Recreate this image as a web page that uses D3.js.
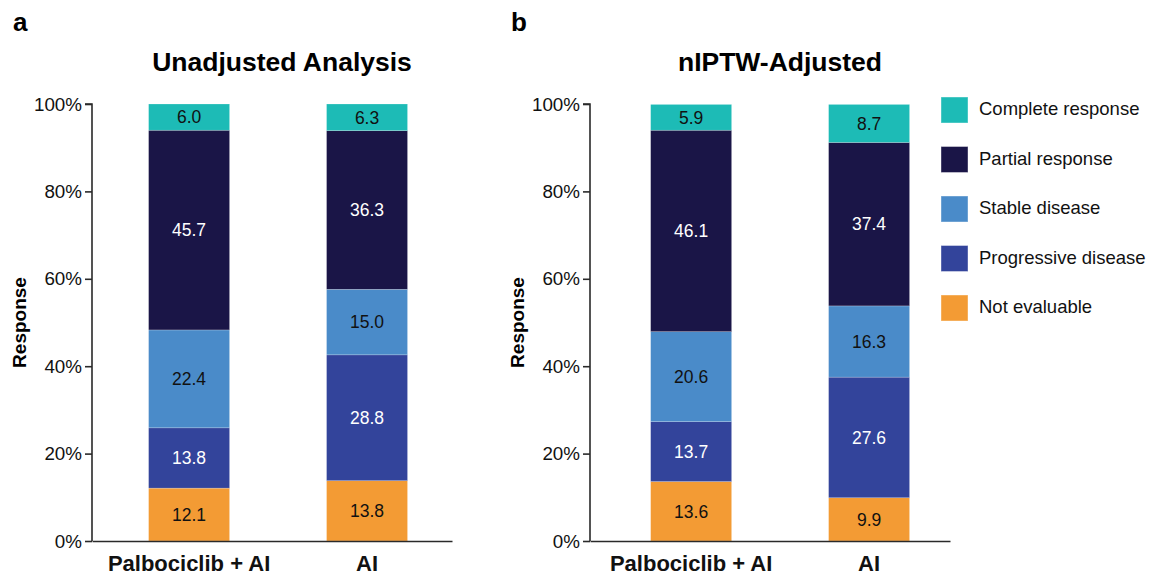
<!DOCTYPE html>
<html>
<head>
<meta charset="utf-8">
<script src="https://cdn.jsdelivr.net/npm/d3@7"></script>
<style>
  body { margin: 0; background: #fff; }
  svg { font-family: Arial, "Liberation Sans", sans-serif; }
</style>
</head>
<body>
<script>
// Categories, bottom to top of each stack
var groups = ["Palbociclib + AI", "AI"];
var responses = ["Not evaluable", "Progressive disease", "Stable disease", "Partial response", "Complete response"];
var colors = ["#F39B34", "#33449B", "#4A8BC9", "#1A1547", "#1DBBB6"];
var labelColors = ["#111", "#fff", "#111", "#fff", "#111"];

// Values in %, same order as responses
var unadjPalbo = [12.1, 13.8, 22.4, 45.7, 6.0];
var unadjAI = [13.8, 28.8, 15.0, 36.3, 6.3];
var adjPalbo = [13.6, 13.7, 20.6, 46.1, 5.9];
var adjAI = [9.9, 27.6, 16.3, 37.4, 8.7];

var yTicks = [0, 20, 40, 60, 80, 100];

var panels = [
  {letter: "a", title: "Unadjusted Analysis", data: [unadjPalbo, unadjAI], x0: 92, x1: 452, lx: 13, align: 0.56},
  {letter: "b", title: "nIPTW-Adjusted", data: [adjPalbo, adjAI], x0: 590, x1: 950, lx: 511, align: 0.6}
];

var width = 1151, height = 576;
var plotTop = 104, plotBottom = 541;
var fontFam = "Arial, 'Liberation Sans', sans-serif";

var svg = d3.select("body").append("svg")
  .attr("width", width)
  .attr("height", height);

panels.forEach(function(p) {
  var g = svg.append("g");

  var y = d3.scaleLinear().domain([0, 100]).range([plotBottom, plotTop]);
  var x = d3.scaleBand().domain(groups).range([p.x0, p.x1])
    .paddingInner(0.545).paddingOuter(0.284).align(p.align);

  // panel letter and title
  g.append("text").attr("x", p.lx).attr("y", 31)
    .attr("font-size", 26).attr("font-weight", "bold").text(p.letter);
  g.append("text").attr("x", (p.x0 + p.x1) / 2 + 10).attr("y", 71)
    .attr("text-anchor", "middle").attr("font-size", 26.5).attr("font-weight", "bold").text(p.title);

  // stacked bars
  p.data.forEach(function(vals, gi) {
    var cum = 0;
    vals.forEach(function(v, ri) {
      var y0 = cum, y1 = Math.min(cum + v, 100);
      cum = cum + v;
      g.append("rect")
        .attr("x", x(groups[gi]))
        .attr("width", x.bandwidth())
        .attr("y", y(y1))
        .attr("height", y(y0) - y(y1))
        .attr("fill", colors[ri])
        .attr("stroke", "#fff")
        .attr("stroke-opacity", 0.35)
        .attr("stroke-width", 0.6);
      g.append("text")
        .attr("x", x(groups[gi]) + x.bandwidth() / 2)
        .attr("y", (y(y0) + y(y1)) / 2)
        .attr("dy", "0.36em")
        .attr("text-anchor", "middle")
        .attr("font-size", 17.5)
        .attr("fill", labelColors[ri])
        .text(v.toFixed(1));
    });
  });

  // y axis
  var yAxis = g.append("g")
    .attr("transform", "translate(" + p.x0 + ",0)")
    .call(d3.axisLeft(y).tickValues(yTicks).tickSize(7).tickPadding(3).tickFormat(function(d) { return d + "%"; }));
  yAxis.select(".domain").attr("stroke", "#2a2a2a").attr("stroke-width", 1.6).attr("d", "M-7," + plotTop + "H0V" + plotBottom);
  yAxis.selectAll(".tick line").attr("stroke", "#2a2a2a").attr("stroke-width", 1.6);
  yAxis.selectAll(".tick text").attr("font-size", 18.8).attr("fill", "#111").attr("font-family", fontFam);

  // x axis
  var xAxis = g.append("g")
    .attr("transform", "translate(0," + plotBottom + ")")
    .call(d3.axisBottom(x).tickSize(0).tickPadding(14));
  xAxis.select(".domain").attr("stroke", "#2a2a2a").attr("stroke-width", 1.6);
  xAxis.selectAll(".tick text").attr("font-size", 22).attr("font-weight", "bold").attr("fill", "#111")
    .attr("font-family", fontFam);

  // y label
  g.append("text")
    .attr("transform", "translate(" + (p.x0 - 66) + "," + ((plotTop + plotBottom) / 2) + ") rotate(-90)")
    .attr("text-anchor", "middle")
    .attr("font-size", 19).attr("font-weight", "bold")
    .text("Response");
});

// legend, top to bottom
var legendOrder = responses.slice().reverse();
var legend = svg.append("g").attr("transform", "translate(941,97)");
legendOrder.forEach(function(r, i) {
  var ci = responses.indexOf(r);
  legend.append("rect").attr("x", 0).attr("y", i * 49.5).attr("width", 27).attr("height", 26)
    .attr("fill", colors[ci]).attr("stroke", "#fff").attr("stroke-opacity", 0.4);
  legend.append("text").attr("x", 38).attr("y", i * 49.5 + 12).attr("dy", "0.35em")
    .attr("font-size", 18.5).attr("fill", "#111").text(r);
});
</script>
</body>
</html>
